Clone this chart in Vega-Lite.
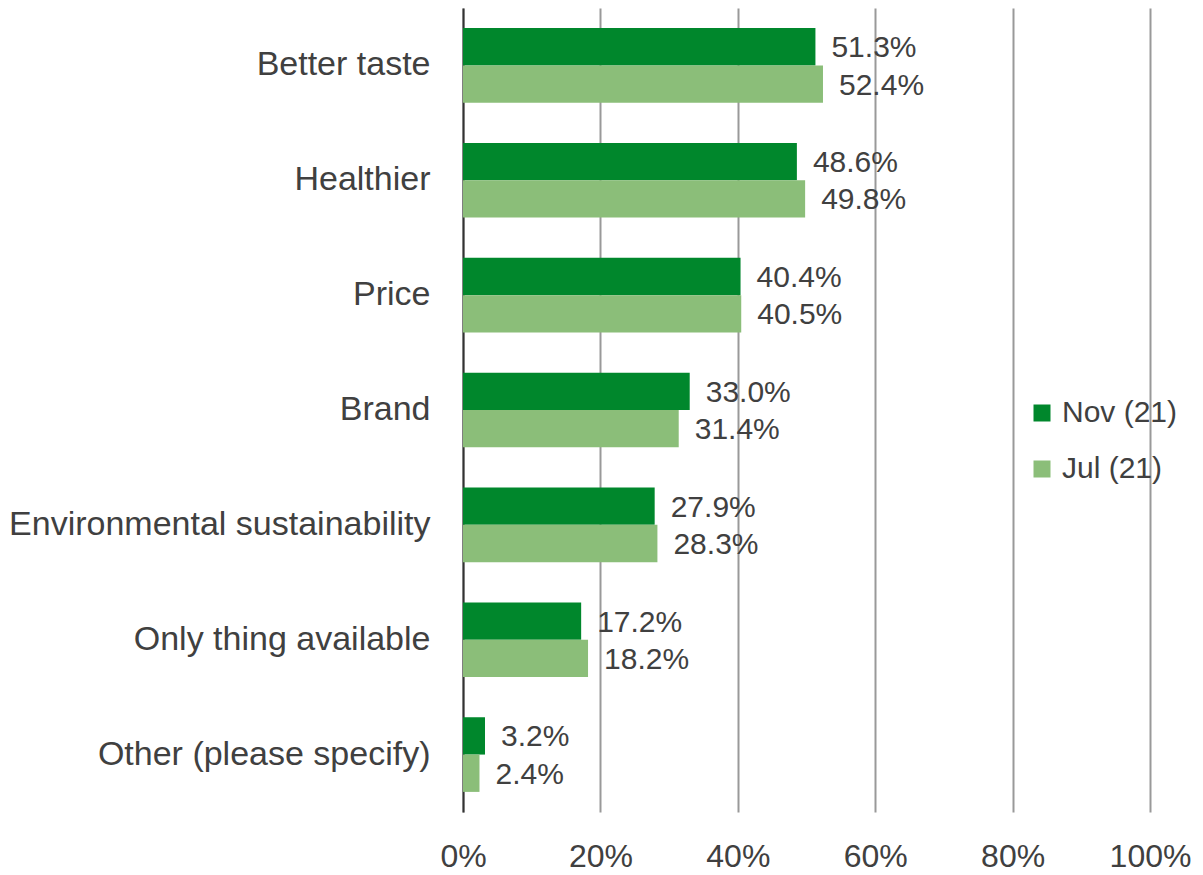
{
  "$schema": "https://vega.github.io/schema/vega-lite/v6.json",
  "width": 687,
  "height": 804,
  "autosize": {"type": "none"},
  "padding": {"left": 463, "top": 8, "right": 53, "bottom": 63},
  "background": "white",
  "config": {"view": {"stroke": null}, "font": "Liberation Sans"},
  "data": {
    "values": [
      {"reason": "Better taste", "series": "Nov (21)", "value": 0.513},
      {"reason": "Better taste", "series": "Jul (21)", "value": 0.524},
      {"reason": "Healthier", "series": "Nov (21)", "value": 0.486},
      {"reason": "Healthier", "series": "Jul (21)", "value": 0.498},
      {"reason": "Price", "series": "Nov (21)", "value": 0.404},
      {"reason": "Price", "series": "Jul (21)", "value": 0.405},
      {"reason": "Brand", "series": "Nov (21)", "value": 0.330},
      {"reason": "Brand", "series": "Jul (21)", "value": 0.314},
      {"reason": "Environmental sustainability", "series": "Nov (21)", "value": 0.279},
      {"reason": "Environmental sustainability", "series": "Jul (21)", "value": 0.283},
      {"reason": "Only thing available", "series": "Nov (21)", "value": 0.172},
      {"reason": "Only thing available", "series": "Jul (21)", "value": 0.182},
      {"reason": "Other (please specify)", "series": "Nov (21)", "value": 0.032},
      {"reason": "Other (please specify)", "series": "Jul (21)", "value": 0.024}
    ]
  },
  "encoding": {
    "y": {
      "field": "reason",
      "type": "nominal",
      "sort": ["Better taste", "Healthier", "Price", "Brand", "Environmental sustainability", "Only thing available", "Other (please specify)"],
      "scale": {"paddingInner": 0.35, "paddingOuter": 0.175},
      "axis": {
        "title": null,
        "domain": true,
        "domainColor": "#333333",
        "domainWidth": 2,
        "ticks": false,
        "grid": false,
        "labelPadding": 33,
        "labelFontSize": 34,
        "labelColor": "#404040",
        "labelLimit": 0
      }
    },
    "yOffset": {
      "field": "series",
      "type": "nominal",
      "sort": ["Nov (21)", "Jul (21)"],
      "scale": {"paddingInner": 0, "paddingOuter": 0}
    },
    "x": {
      "field": "value",
      "type": "quantitative",
      "scale": {"domain": [0, 1], "nice": false},
      "axis": {
        "title": null,
        "orient": "bottom",
        "domain": false,
        "ticks": false,
        "values": [0, 0.2, 0.4, 0.6, 0.8, 1],
        "format": ".0%",
        "labelPadding": 29,
        "labelFontSize": 32,
        "labelColor": "#404040",
        "labelFlush": false,
        "grid": true,
        "gridColor": "#999999",
        "gridWidth": 2
      }
    }
  },
  "layer": [
    {
      "mark": {"type": "bar"},
      "encoding": {
        "color": {
          "field": "series",
          "type": "nominal",
          "sort": ["Nov (21)", "Jul (21)"],
          "scale": {"domain": ["Nov (21)", "Jul (21)"], "range": ["#00872C", "#8BBE79"]},
          "legend": {
            "orient": "none",
            "legendX": 564,
            "legendY": 390,
            "title": null,
            "symbolType": "square",
            "symbolSize": 289,
            "symbolStrokeWidth": 0,
            "labelFontSize": 30,
            "labelColor": "#404040",
            "labelOffset": 5,
            "rowPadding": 26,
            "padding": 0
          }
        }
      }
    },
    {
      "mark": {"type": "text", "align": "left", "baseline": "middle", "dx": 16, "dy": 1.5, "fontSize": 30, "color": "#404040"},
      "encoding": {
        "text": {"field": "value", "type": "quantitative", "format": ".1%"}
      }
    }
  ]
}
